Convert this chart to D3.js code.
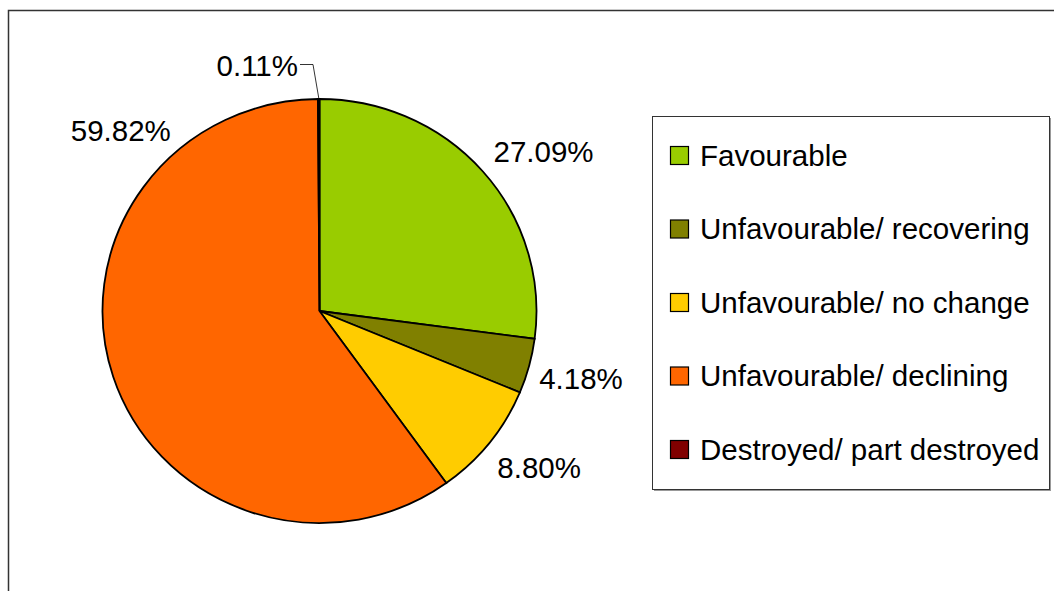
<!DOCTYPE html>
<html>
<head>
<meta charset="utf-8">
<script src="https://cdn.jsdelivr.net/npm/d3@7"></script>
<style>
  body { margin: 0; background: #fff; }
  text { font-family: "Liberation Sans", Arial, sans-serif; fill: #000; }
</style>
</head>
<body>
<svg id="chart" width="1054" height="591"></svg>
<script>
// data
var categories = ["Favourable", "Unfavourable/ recovering", "Unfavourable/ no change",
                  "Unfavourable/ declining", "Destroyed/ part destroyed"];
var values = [27.09, 4.18, 8.80, 59.82, 0.11];
var colors = ["#99cc00", "#808000", "#ffcc00", "#ff6600", "#800000"];
var labels = ["27.09%", "4.18%", "8.80%", "59.82%", "0.11%"];

var svg = d3.select("#chart");
var fs = 29.5;

// outer frame (runs off the right and bottom)
svg.append("path")
  .attr("d", "M8.5,600 L8.5,10.5 L1060,10.5")
  .attr("fill", "none")
  .attr("stroke", "#333")
  .attr("stroke-width", 1.5);

var cx = 319.5, cy = 311, rx = 217, ry = 212;

var pie = d3.pie().sort(null).value(function(d) { return d; });
var arcs = pie(values);
var arc = d3.arc().innerRadius(0).outerRadius(rx);

var g = svg.append("g")
  .attr("transform", "translate(" + cx + "," + cy + ") scale(1," + (ry / rx) + ")");

g.selectAll("path.slice")
  .data(arcs)
  .enter().append("path")
  .attr("class", "slice")
  .attr("d", arc)
  .attr("fill", function(d, i) { return colors[i]; })
  .attr("stroke", "#000")
  .attr("stroke-width", 1.8)
  .attr("vector-effect", "non-scaling-stroke");

function pt(a, k) {
  return [cx + Math.sin(a) * rx * k, cy - Math.cos(a) * ry * k];
}

// label placement tweaks relative to slice mid angle
var tweaks = [
  { k: 1.22, dx: 25, dy: 11 },
  { k: 1.2, dx: 10, dy: 2 },
  { k: 1.18, dx: 19, dy: 1 },
  { k: 1.25, angle: 312.9 },
  null
];

var labelG = svg.append("g");
arcs.forEach(function(d, i) {
  var mid = (d.startAngle + d.endAngle) / 2;
  if (i === 4) {
    // tiny slice: label with leader line
    var p0 = pt(mid, 1.0);
    labelG.append("path")
      .attr("d", "M" + p0[0] + "," + (p0[1] - 1) + " L313,64.5 L300,64.5")
      .attr("fill", "none")
      .attr("stroke", "#000")
      .attr("stroke-width", 0.8);
    labelG.append("text")
      .attr("x", 298)
      .attr("y", 66)
      .attr("dy", "0.35em")
      .attr("text-anchor", "end")
      .attr("font-size", fs)
      .text(labels[i]);
    return;
  }
  var t = tweaks[i];
  var a = t.angle !== undefined ? t.angle * Math.PI / 180 : mid;
  var p = pt(a, t.k);
  labelG.append("text")
    .attr("x", p[0] + (t.dx || 0))
    .attr("y", p[1] + (t.dy || 0))
    .attr("dy", "0.35em")
    .attr("text-anchor", "middle")
    .attr("font-size", fs)
    .text(labels[i]);
});

// legend
var lx = 652.5, ly = 116.5, lw = 397, lh = 373;
svg.append("rect")
  .attr("x", lx + 1.5).attr("y", ly + 1.5)
  .attr("width", lw).attr("height", lh)
  .attr("fill", "#999");
svg.append("rect")
  .attr("x", lx).attr("y", ly)
  .attr("width", lw).attr("height", lh)
  .attr("fill", "#fff")
  .attr("stroke", "#333")
  .attr("stroke-width", 1);

var rowY = d3.scalePoint().domain(categories).range([155.5, 449.5]);

var items = svg.append("g").selectAll("g")
  .data(categories)
  .enter().append("g")
  .attr("transform", function(d) { return "translate(0," + rowY(d) + ")"; });

items.append("rect")
  .attr("x", 670.5).attr("y", -9)
  .attr("width", 18).attr("height", 18)
  .attr("fill", function(d, i) { return colors[i]; })
  .attr("stroke", "#000")
  .attr("stroke-width", 1.2);

items.append("text")
  .attr("x", 700)
  .attr("y", 0)
  .attr("dy", "0.35em")
  .attr("font-size", fs)
  .text(function(d) { return d; });
</script>
</body>
</html>
